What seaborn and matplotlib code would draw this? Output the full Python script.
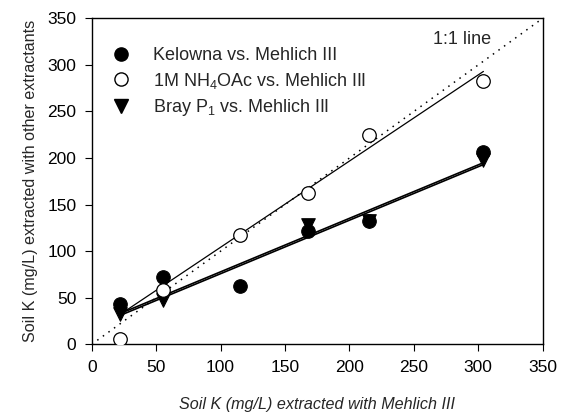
import matplotlib
matplotlib.use("Agg")
import matplotlib.pyplot as plt
import seaborn as sns
import numpy as np
from matplotlib.lines import Line2D

# ---- data ----
mehlich = [22, 55, 115, 168, 215, 304]
kelowna = [43, 72, 63, 122, 132, 206]
nh4oac = [6, 58, 117, 162, 225, 283]
bray = [33, 48, np.nan, 128, 132, 198]   # point at 115 is hidden in the picture

fit_x = [22, 304]
kelowna_fit = [33, 195]
bray_fit = [31, 193]
nh4oac_fit = [32, 293]

one_to_one = [0, 350]

x_ticks = [0, 50, 100, 150, 200, 250, 300, 350]
y_ticks = [0, 50, 100, 150, 200, 250, 300, 350]

labels = ["Kelowna vs. Mehlich III",
          "1M NH$_4$OAc vs. Mehlich III",
          "Bray P$_1$ vs. Mehlich III"]

sns.set_style("ticks")
plt.rcParams['font.family'] = ['Liberation Sans', 'DejaVu Sans']
plt.rcParams['mathtext.fontset'] = 'custom'
plt.rcParams['mathtext.rm'] = 'Liberation Sans'
plt.rcParams['mathtext.it'] = 'Liberation Sans'

fig = plt.figure(figsize=(5.65, 4.17), dpi=100)
ax = fig.add_axes([0.1623, 0.1743, 0.7982, 0.7817])

# 1:1 line
sns.lineplot(x=one_to_one, y=one_to_one, ax=ax, color="black", lw=1.1,
             linestyle=(0, (1, 3.5)), zorder=1)

# fit lines
sns.lineplot(x=fit_x, y=kelowna_fit, ax=ax, color="black", lw=1.2, zorder=2)
sns.lineplot(x=fit_x, y=bray_fit, ax=ax, color="black", lw=1.2, zorder=2)
sns.lineplot(x=fit_x, y=nh4oac_fit, ax=ax, color="black", lw=0.9, zorder=2)

ms = 95
sns.scatterplot(x=mehlich, y=bray, ax=ax, marker="v", s=ms, color="black",
                edgecolor="black", linewidth=0.8, zorder=3)
sns.scatterplot(x=mehlich, y=kelowna, ax=ax, marker="o", s=ms, color="black",
                edgecolor="black", linewidth=0.8, zorder=4)
sns.scatterplot(x=mehlich, y=nh4oac, ax=ax, marker="o", s=ms, color="white",
                edgecolor="black", linewidth=0.9, zorder=5)

ax.set_xlim(0, 350)
ax.set_ylim(0, 350)
ax.set_xticks(x_ticks)
ax.set_yticks(y_ticks)
ax.tick_params(axis="both", direction="out", length=5, width=0.8,
               labelsize=12.5, colors="black", pad=6)
for sp in ax.spines.values():
    sp.set_visible(True)
    sp.set_color("black")
    sp.set_linewidth(1.0)

ax.set_xlabel("Soil K (mg/L) extracted with Mehlich III", fontsize=11.6,
              style="italic", labelpad=16)
ax.set_ylabel("Soil K (mg/L) extracted with other extractants", fontsize=11.6,
              labelpad=7)

ax.text(310, 327, "1:1 line", fontsize=13, ha="right", va="center")

handles = [
    Line2D([], [], marker="o", linestyle="none", markersize=9.5,
           markerfacecolor="black", markeredgecolor="black"),
    Line2D([], [], marker="o", linestyle="none", markersize=9.5,
           markerfacecolor="white", markeredgecolor="black"),
    Line2D([], [], marker="v", linestyle="none", markersize=9.5,
           markerfacecolor="black", markeredgecolor="black"),
]
ax.legend(handles, labels, loc="upper left", bbox_to_anchor=(0.0, 0.955),
          frameon=False, fontsize=13, handletextpad=1.0,
          labelspacing=0.35, borderaxespad=0.4, handlelength=1.6)

fig.savefig("out.png", dpi=100)
